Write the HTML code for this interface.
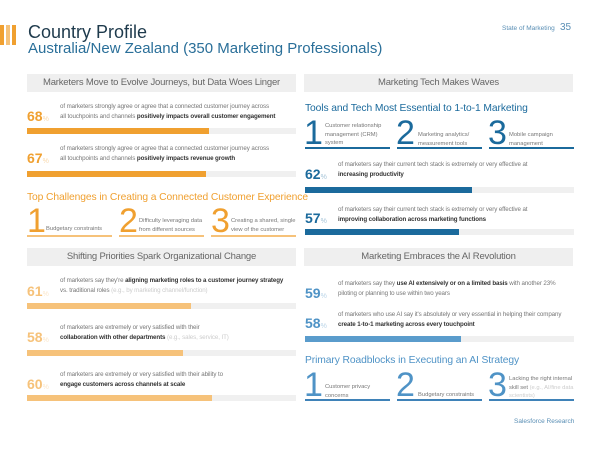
<!DOCTYPE html><html><head><style>
body{margin:0;width:600px;height:450px;background:#fff;position:relative;overflow:hidden;font-family:"Liberation Sans",sans-serif;color:#555}
div{position:absolute;white-space:nowrap}
.hd{background:#efefef;height:18px;width:269px;font-size:9.5px;color:#666;text-align:center;line-height:18px;letter-spacing:-0.2px}
.t{font-size:6.2px;color:#777;line-height:10px;letter-spacing:-0.1px}
.t b{color:#333}
.n{font-size:14px;font-weight:bold}
.n span{font-size:7px;font-weight:normal;opacity:.4}
.o{color:#f0a030}.lo{color:#f6c27a}.bl{color:#1b6a9c}.lb{color:#4f93c6}
.bg{background:#f0f0f0;height:6px;width:269px}
.bg i{position:absolute;left:0;top:0;height:6px}
.big{font-size:34px;line-height:30px;font-weight:300}
.s{font-size:5.8px;color:#777;line-height:8.5px}
.ul{height:2px;width:85px}
.ti{font-size:10.3px;letter-spacing:-0.1px}
</style></head><body>
<div style="left:0;top:25px;width:4px;height:20px;background:#f0a030"></div>
<div style="left:6px;top:25px;width:4px;height:20px;background:#f5c27a"></div>
<div style="left:12px;top:25px;width:4px;height:20px;background:#f0a030"></div>
<div style="left:28px;top:22px;font-size:18px;color:#1e3a4c">Country Profile</div>
<div style="left:28px;top:40px;font-size:15px;color:#2a6f99">Australia/New Zealand (350 Marketing Professionals)</div>
<div style="left:502px;top:25px;font-size:6.5px;color:#5a8fb5">State of Marketing</div>
<div style="left:560px;top:22px;font-size:10px;color:#5a8fb5">35</div>

<div class="hd" style="left:27px;top:74px">Marketers Move to Evolve Journeys, but Data Woes Linger</div>
<div class="n o" style="left:27px;top:108px">68<span>%</span></div>
<div class="t" style="left:60px;top:102px">of marketers strongly agree or agree that a connected customer journey across<br>all touchpoints and channels <b>positively impacts overall customer engagement</b></div>
<div class="bg" style="left:27px;top:128px"><i style="width:182px;background:#f0a030"></i></div>
<div class="n o" style="left:27px;top:150px">67<span>%</span></div>
<div class="t" style="left:60px;top:144px">of marketers strongly agree or agree that a connected customer journey across<br>all touchpoints and channels <b>positively impacts revenue growth</b></div>
<div class="bg" style="left:27px;top:171px"><i style="width:179px;background:#f0a030"></i></div>
<div class="ti o" style="left:27px;top:192px">Top Challenges in Creating a Connected Customer Experience</div>
<div class="big o" style="left:27px;top:206px">1</div><div class="s" style="left:46px;top:225px">Budgetary constraints</div>
<div class="big o" style="left:119px;top:206px">2</div><div class="s" style="left:139px;top:217px">Difficulty leveraging data<br>from different sources</div>
<div class="big o" style="left:211px;top:206px">3</div><div class="s" style="left:231px;top:217px">Creating a shared, single<br>view of the customer</div>
<div class="ul" style="left:27px;top:235px;background:#f6c27a"></div>
<div class="ul" style="left:119px;top:235px;background:#f6c27a"></div>
<div class="ul" style="left:211px;top:235px;background:#f6c27a"></div>

<div class="hd" style="left:27px;top:248px">Shifting Priorities Spark Organizational Change</div>
<div class="n lo" style="left:27px;top:283px">61<span>%</span></div>
<div class="t" style="left:60px;top:276px">of marketers say they're <b>aligning marketing roles to a customer journey strategy</b><br>vs. traditional roles <span style="color:#ccc">(e.g., by marketing channel/function)</span></div>
<div class="bg" style="left:27px;top:303px"><i style="width:164px;background:#f6c27a"></i></div>
<div class="n lo" style="left:27px;top:329px">58<span>%</span></div>
<div class="t" style="left:60px;top:323px">of marketers are extremely or very satisfied with their<br><b>collaboration with other departments</b> <span style="color:#ccc">(e.g., sales, service, IT)</span></div>
<div class="bg" style="left:27px;top:350px"><i style="width:156px;background:#f6c27a"></i></div>
<div class="n lo" style="left:27px;top:376px">60<span>%</span></div>
<div class="t" style="left:60px;top:370px">of marketers are extremely or very satisfied with their ability to<br><b>engage customers across channels at scale</b></div>
<div class="bg" style="left:27px;top:395px"><i style="width:185px;background:#f6c27a"></i></div>

<div class="hd" style="left:304px;top:74px">Marketing Tech Makes Waves</div>
<div class="ti bl" style="left:305px;top:103px">Tools and Tech Most Essential to 1-to-1 Marketing</div>
<div class="big bl" style="left:304px;top:118px">1</div><div class="s" style="left:325px;top:122px">Customer relationship<br>management (CRM)<br>system</div>
<div class="big bl" style="left:396px;top:118px">2</div><div class="s" style="left:418px;top:131px">Marketing analytics/<br>measurement tools</div>
<div class="big bl" style="left:488px;top:118px">3</div><div class="s" style="left:509px;top:131px">Mobile campaign<br>management</div>
<div class="ul" style="left:305px;top:147px;background:#1b6a9c"></div>
<div class="ul" style="left:397px;top:147px;background:#1b6a9c"></div>
<div class="ul" style="left:489px;top:147px;background:#1b6a9c"></div>
<div class="n bl" style="left:305px;top:166px">62<span>%</span></div>
<div class="t" style="left:338px;top:160px">of marketers say their current tech stack is extremely or very effective at<br><b>increasing productivity</b></div>
<div class="bg" style="left:305px;top:187px"><i style="width:167px;background:#1b6a9c"></i></div>
<div class="n bl" style="left:305px;top:210px">57<span>%</span></div>
<div class="t" style="left:338px;top:205px">of marketers say their current tech stack is extremely or very effective at<br><b>improving collaboration across marketing functions</b></div>
<div class="bg" style="left:305px;top:229px"><i style="width:154px;background:#1b6a9c"></i></div>

<div class="hd" style="left:304px;top:248px">Marketing Embraces the AI Revolution</div>
<div class="n lb" style="left:305px;top:285px">59<span>%</span></div>
<div class="t" style="left:338px;top:279px">of marketers say they <b>use AI extensively or on a limited basis</b> with another 23%<br>piloting or planning to use within two years</div>
<div class="n lb" style="left:305px;top:315px">58<span>%</span></div>
<div class="t" style="left:338px;top:310px">of marketers who use AI say it's absolutely or very essential in helping their company<br><b>create 1-to-1 marketing across every touchpoint</b></div>
<div class="bg" style="left:305px;top:336px"><i style="width:156px;background:#5a9ccc"></i></div>
<div class="ti lb" style="left:305px;top:355px">Primary Roadblocks in Executing an AI Strategy</div>
<div class="big lb" style="left:304px;top:370px">1</div><div class="s" style="left:325px;top:383px">Customer privacy<br>concerns</div>
<div class="big lb" style="left:396px;top:370px">2</div><div class="s" style="left:418px;top:391px">Budgetary constraints</div>
<div class="big lb" style="left:488px;top:370px">3</div><div class="s" style="left:509px;top:375px">Lacking the right internal<br>skill set <span style="color:#ccc">(e.g., AI/fine data</span><br><span style="color:#ccc">scientists)</span></div>
<div class="ul" style="left:305px;top:399px;background:#3f82b8"></div>
<div class="ul" style="left:397px;top:399px;background:#3f82b8"></div>
<div class="ul" style="left:489px;top:399px;background:#3f82b8"></div>
<div style="left:514px;top:418px;font-size:6.5px;color:#5a8fb5">Salesforce Research</div>
</body></html>
